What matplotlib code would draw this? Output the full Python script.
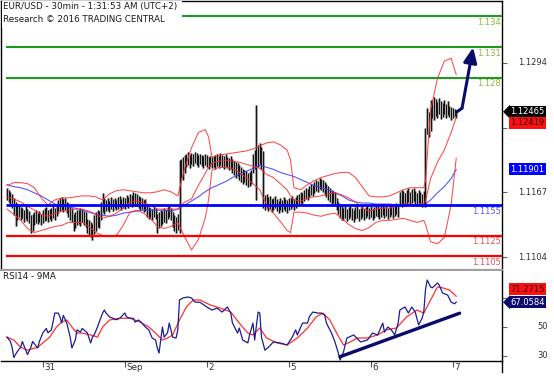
import matplotlib
matplotlib.use("Agg")
import matplotlib.pyplot as plt
import matplotlib.transforms as mtransforms
from matplotlib.patches import Rectangle
from matplotlib.lines import Line2D
import numpy as np

# 30 min bars (high / low in pips above 1.1000), first bar = Aug 30 ~14:00
bar_high = [
    172, 170, 168, 166, 162, 158, 156, 155, 153, 152, 150, 154, 151, 149, 145, 146,
    148, 150, 147, 149, 146, 150, 152, 153, 150, 151, 152, 154, 152,
    156, 160, 162, 163, 161, 162, 158, 157, 154, 152, 146, 148, 150,
    150, 152, 151, 149, 148, 141, 140, 138, 136, 145, 148, 150, 149, 158, 167, 162,
    160, 162, 159, 163, 161, 162, 160, 163, 164, 161, 163, 162, 165, 163, 166, 165,
    168, 167, 166, 164, 163, 162, 160, 161, 155, 153, 152, 151, 154, 152, 146, 148,
    150, 149, 152, 150, 153, 155, 152, 148, 145, 143, 146, 199, 200, 202, 204,
    205, 207, 204, 206, 205, 207, 206, 204, 205, 204, 203, 205, 204, 202, 203, 202,
    203, 204, 205, 203, 206, 204, 203, 205, 202, 201, 203,
    200, 198, 197, 196, 194, 192, 190, 189, 188, 186, 187, 189, 205, 209, 253, 214, 216, 212, 208,
    165, 166, 163, 164, 161, 162, 164, 161, 159, 162, 160, 163, 161, 160, 162,
    162, 164, 161, 163, 165,
    166, 168, 167, 170, 172, 171, 174, 176, 175, 178, 180, 179, 182, 181,
    180, 178, 176, 174, 172, 170, 169, 168, 162, 158, 156, 154,
    152, 154, 151, 153, 155, 152, 150, 153, 154, 151, 152, 154, 151, 153, 155, 152, 154,
    151, 153, 155, 154, 152, 155, 156, 153, 155, 152, 154, 156, 153, 155, 157, 154,
    168, 170, 169, 167, 170, 172, 168, 171, 172, 169, 167, 170, 168, 166, 169,
    231, 250, 246, 258, 258, 261, 259, 256, 260, 257, 255, 258, 254, 257, 252, 251, 250, 249, 248]
bar_low = [
    160, 158, 155, 152, 145, 134, 140, 143, 140, 142, 138, 141, 139, 137, 128, 130,
    135, 137, 136, 138, 135, 137, 139, 140, 138, 141, 139, 142, 140,
    144, 147, 149, 150, 148, 150, 147, 143, 140, 138, 130, 132, 135,
    136, 134, 138, 135, 133, 128, 126, 124, 121, 127, 130, 133, 132, 140, 148, 146,
    149, 150, 148, 151, 149, 152, 150, 151, 153, 150, 152, 151, 154, 152, 155, 153,
    156, 154, 155, 152, 150, 151, 148, 149, 143, 141, 142, 140, 143, 141, 128, 132,
    134, 136, 138, 137, 141, 143, 140, 133, 130, 128, 131, 128, 182, 180, 186,
    192, 194, 191, 195, 193, 196, 194, 192, 195, 193, 191, 194, 192, 190, 193, 191,
    192, 190, 193, 191, 194, 192, 190, 193, 191, 189, 190,
    186, 184, 182, 183, 180, 178, 176, 178, 175, 173, 174, 176, 186, 190, 160, 192, 195, 190, 152,
    150, 152, 149, 151, 148, 150, 152, 149, 147, 150, 148, 151, 149, 147, 150,
    151, 153, 150, 152, 154,
    155, 157, 156, 159, 161, 160, 163, 165, 164, 167, 169, 168, 171, 170,
    168, 165, 163, 160, 158, 156, 157, 155, 150, 146, 142, 140,
    140, 142, 139, 141, 143, 140, 138, 141, 142, 139, 141, 143, 140, 142, 144, 141, 143,
    140, 142, 144, 143, 141, 143, 145, 142, 144, 141, 143, 145, 142, 144, 146, 143,
    155, 153, 156, 154, 156, 158, 155, 157, 159, 156, 154, 157, 155, 153, 156,
    153, 225, 222, 228, 240, 238, 242, 240, 244, 239, 241, 244, 240, 243, 241, 238, 240, 242, 240]

# bollinger bands + moving average, read every few bars (pips above 1.1000)
band_idx = [0, 4, 8, 12, 16, 20, 24, 28, 32, 36,
            40, 44, 48, 52, 56, 60, 64, 68, 72, 76,
            80, 84, 88, 92, 96, 100, 104, 108, 112, 116,
            118, 120, 124, 128, 132, 136, 140, 144, 148, 152,
            156, 160, 164, 166, 168, 172, 176, 180, 184, 188,
            192, 196, 200, 204, 208, 212, 216, 220, 224, 228,
            232, 236, 240, 244, 245, 248, 252, 256, 260, 263]
bb_upper = [174, 177, 177, 176, 172, 162, 155, 160, 162, 162,
            163, 164, 164, 163, 160, 166, 169, 170, 169, 168,
            167, 167, 168, 170, 168, 164, 191, 211, 226, 229,
            222, 202, 204, 205, 206, 207, 208, 210, 213, 216,
            217, 214, 209, 199, 172, 170, 175, 179, 182, 184,
            186, 187, 187, 182, 173, 164, 163, 163, 164, 167,
            170, 172, 172, 172, 179, 248, 279, 296, 299, 283]
bb_middle = [163, 161, 158, 154, 150, 146, 144, 147, 149, 150,
             151, 151, 149, 146, 142, 144, 147, 152, 158, 159,
             157, 155, 151, 151, 151, 151, 158, 161, 174, 186,
             192, 196, 198, 199, 198, 197, 195, 193, 191, 185,
             182, 176, 170, 164, 160, 159, 162, 163, 164, 166,
             167, 165, 162, 158, 152, 149, 151, 152, 152, 154,
             156, 156, 155, 157, 159, 181, 197, 209, 226, 241]
bb_lower = [151, 146, 140, 132, 128, 130, 132, 134, 135, 138,
            138, 138, 134, 128, 125, 124, 125, 135, 148, 150,
            147, 142, 134, 132, 134, 138, 124, 111, 121, 142,
            160, 189, 192, 192, 191, 187, 182, 176, 170, 155,
            147, 139, 130, 128, 148, 148, 147, 145, 144, 146,
            147, 142, 136, 132, 130, 133, 138, 140, 140, 141,
            142, 140, 138, 140, 136, 119, 117, 123, 155, 201]
ma_blue = [175, 173, 172, 170, 167, 164, 160, 156, 154, 153,
           152, 150, 148, 146, 145, 144, 145, 147, 148, 149,
           150, 150, 150, 150, 149, 151, 155, 159, 163, 168,
           170, 172, 175, 178, 182, 185, 188, 191, 194, 192,
           190, 187, 185, 184, 183, 180, 177, 174, 172, 170,
           167, 164, 160, 158, 157, 157, 156, 156, 156, 155,
           155, 155, 155, 155, 156, 160, 167, 173, 181, 190]

# RSI14 and its 9MA
rsi_idx = [0, 2, 3, 4, 6, 8, 9, 11, 12, 14,
           15, 18, 19, 21, 23, 24, 26, 28, 30, 31,
           32, 33, 35, 37, 38, 40, 41, 43, 44, 47,
           49, 50, 51, 53, 54, 56, 57, 58, 60, 62,
           64, 66, 69, 70, 72, 74, 75, 77, 79, 81,
           83, 85, 87, 88, 89, 90, 91, 92, 94, 95,
           97, 99, 100, 101, 103, 106, 108, 110, 113, 117,
           120, 123, 126, 129, 131, 132, 135, 136, 138, 141,
           142, 144, 145, 147, 148, 149, 151, 153, 156, 160,
           164, 167, 169, 170, 173, 176, 177, 179, 182, 184,
           186, 187, 190, 192, 194, 195, 197, 199, 203, 207,
           211, 214, 217, 220, 221, 223, 225, 227, 229, 230,
           233, 235, 237, 239, 241, 243, 244, 245, 246, 248,
           249, 252, 253, 255, 258, 260, 262, 263]
rsi_val = [43, 40, 36, 29, 33, 36, 40, 34, 31, 36,
           40, 35.5, 40, 46, 49, 46, 48, 59.6, 59.6, 57,
           52.7, 58, 52.7, 43, 35.5, 41, 48, 46.5, 49, 46,
           39, 43, 44.5, 50, 53.4, 59.6, 61.7, 59.6, 57, 56,
           55, 56, 59.6, 57, 56, 56, 53.4, 54.8, 52.7, 50,
           48, 42.4, 41, 35.5, 32, 41, 50, 43, 46, 52.7,
           43, 42.4, 48, 68.6, 70, 70.7, 70, 67.2, 67, 63.8,
           61.7, 63, 60.3, 63.8, 59.6, 52.7, 45.8, 49.3, 41, 39,
           44.5, 52.7, 41, 60.3, 59.6, 43, 34, 36, 39.7, 39,
           37.6, 43, 48, 44.5, 52.7, 52.7, 57, 60.3, 59.6, 59.6,
           58.2, 52.7, 45.8, 39.7, 32, 27.2, 32.8, 42.4, 44.5, 39.7,
           41, 45.8, 44.5, 52.7, 46.5, 50, 48, 44.5, 52.7, 61.7,
           63.8, 59.6, 63.8, 60.3, 51.4, 56, 60.3, 75.5, 82.4, 77.6,
           77, 80.3, 79, 73.4, 72, 67.2, 66, 67.1]
rsi_ma_idx = [0, 4, 8, 12, 18, 21, 25, 29, 32, 35,
              38, 41, 44, 49, 53, 56, 60, 66, 72, 78,
              83, 87, 91, 94, 97, 101, 105, 109, 113, 119,
              125, 131, 136, 141, 144, 148, 152, 158, 164, 170,
              176, 181, 185, 189, 193, 197, 201, 205, 211, 217,
              222, 228, 234, 240, 244, 248, 252, 255, 259, 263]
rsi_ma_val = [43, 41, 36, 34, 36, 39, 43, 50, 53.4, 54.8,
              50, 45.8, 45.8, 44.5, 43, 50, 54.8, 56, 56, 53.4,
              50, 45.8, 41, 42.4, 44.5, 54.8, 63.8, 68.6, 68.6, 65.2,
              63, 60.3, 52.7, 45.8, 44.5, 49.3, 42.4, 39, 37.6, 42.4,
              49.3, 57, 59.6, 54.8, 45.8, 37.6, 39.7, 42.4, 42.4, 44.5,
              48, 49.3, 57, 61.7, 59.6, 68.6, 77.6, 77, 75.5, 71.3]
trend_idx = [195, 265]
trend_val = [29.5, 59.5]

# projection arrow (bar index, price)
proj_idx = [263.5, 266.4, 272.9]
proj_price = [1.12465, 1.12500, 1.13096]

green_levels = [1.134, 1.131, 1.128]
blue_levels = [1.1155]
red_levels = [1.1125, 1.1105]

day_idx = [21, 69, 117, 165, 213, 261]
day_labels = ["31", "Sep", "2", "5", "6", "7"]
price_ticks = [1.1104, 1.11675, 1.1231, 1.12945]
price_tick_labels = ["1.1104", "1.1167", "", "1.1294"]

last_close = 1.12465
bb_last = 1.12419
ma_last = 1.11901
rsi_last = 67.0584
rsi_ma_last = 71.2715


def px(p):
    return 1.1 + np.asarray(p, dtype=float) / 10000.0


W, H = 554, 376
fig = plt.figure(figsize=(W / 100, H / 100), dpi=100)
fig.patch.set_facecolor("white")


def box(x0, y0, x1, y1):
    return [x0 / W, 1 - y1 / H, (x1 - x0) / W, (y1 - y0) / H]


ax = fig.add_axes(box(1, 0.5, 502, 270))
ar = fig.add_axes(box(1, 271, 502, 361))

xmin, xmax = -3.5, 289.8
for a in (ax, ar):
    a.set_xlim(xmin, xmax)
    a.set_facecolor("white")
ax.set_ylim(1.10913, 1.13556)
ar.set_ylim(26.55, 88.6)

bars = np.arange(len(bar_high))
navy = "#0b0b6e"

# price bars: grey halo + thin black stroke
ax.vlines(bars, px(bar_low), px(bar_high), colors="#a8a8a8", lw=2.2, zorder=2)
ax.vlines(bars, px(bar_low), px(bar_high), colors="#111111", lw=0.7, zorder=3)

# indicators
ax.plot(band_idx, px(ma_blue), color="#3a3aff", lw=0.8, alpha=0.85, zorder=4)
for band in (bb_upper, bb_middle, bb_lower):
    ax.plot(band_idx, px(band), color="#ff2a2a", lw=0.75, alpha=0.85, zorder=4)

# support / resistance
lab = mtransforms.blended_transform_factory(ax.transAxes, ax.transData)
for lvls, lc, tc, lw in ((green_levels, "#1f9a1f", "#93b53c", 1.5),
                         (blue_levels, "#0000ff", "#5858ff", 2.0),
                         (red_levels, "#ff0000", "#e85050", 1.6)):
    for v in lvls:
        ax.hlines(v, -0.3, xmax, colors=lc, lw=lw, zorder=5)
        txt = ("%.4f" % v).rstrip("0")
        ax.annotate(txt, xy=(0.998, v), xycoords=lab, xytext=(0, -1.2),
                    textcoords="offset points", ha="right", va="top",
                    fontsize=6, color=tc, zorder=6)

# projection arrow
ax.plot(proj_idx[:2], proj_price[:2], color=navy, lw=2.2, solid_capstyle="round", zorder=7)
ax.annotate("", xy=(proj_idx[2], proj_price[2]), xytext=(proj_idx[1], proj_price[1]),
            arrowprops=dict(arrowstyle="-|>,head_length=0.9,head_width=0.4",
                            lw=2.2, color=navy, shrinkA=0, shrinkB=0), zorder=7)

# RSI panel
ar.plot(rsi_ma_idx, rsi_ma_val, color="#ff3030", lw=0.9, zorder=3)
ar.plot(rsi_idx, rsi_val, color="#1c1c96", lw=0.9, zorder=4)
ar.plot(trend_idx, trend_val, color=navy, lw=2.4, solid_capstyle="round", zorder=5)

# axes styling
for a in (ax, ar):
    a.yaxis.tick_right()
    a.tick_params(axis="y", length=3.5, width=0.8, color="#666666", labelright=False)
    for s in a.spines.values():
        s.set_color("black")
        s.set_linewidth(1.0)
ax.set_xticks([])
ax.set_yticks(price_ticks)
ax.spines["bottom"].set_color("#a0a0a0")
ax.spines["bottom"].set_linewidth(1.6)
ar.spines["top"].set_visible(False)
ar.spines["left"].set_visible(False)
ar.set_yticks([30, 50, 70])
ar.set_xticks(day_idx)
ar.set_xticklabels([])
ar.tick_params(axis="x", length=4, width=0.8, color="#555555")

for v, s in zip(price_ticks, price_tick_labels):
    ax.text(1.0907, v, s, transform=lab, ha="right", va="center", fontsize=6, color="#333333")
rlab = mtransforms.blended_transform_factory(ar.transAxes, ar.transData)
for v in (50, 30):
    ar.text(1.0907, v, str(v), transform=rlab, ha="right", va="center", fontsize=6, color="#333333")

dlab = mtransforms.blended_transform_factory(ar.transData, ar.transAxes)
for i, s in zip(day_idx, day_labels):
    ar.text(i + 1.0, -0.02, s, transform=dlab, ha="left", va="top", fontsize=6.3, color="#333333")


def tag(a, tr, value, text, face, fg, dy=0.0, arrow=False):
    a.annotate(text, xy=(1.016, value), xycoords=tr, xytext=(0, dy), textcoords="offset points",
               ha="left", va="center", fontsize=6, color=fg, annotation_clip=False,
               bbox=dict(boxstyle="square,pad=0.18", fc=face, ec="none"), zorder=10)
    if arrow:
        a.annotate("", xy=(1.002, value), xycoords=tr, xytext=(1.016, value),
                   arrowprops=dict(arrowstyle="-|>,head_length=0.5,head_width=0.5",
                                   color=face, lw=0.1, shrinkA=0, shrinkB=0),
                   annotation_clip=False)


tag(ax, lab, last_close, "%.5f" % last_close, "black", "white", arrow=True)
tag(ax, lab, bb_last, "%.5f" % bb_last, "#ff1010", "#2a0000", dy=-4.5)
tag(ax, lab, ma_last, "%.5f" % ma_last, "#0000ff", "white")
tag(ar, rlab, rsi_ma_last, "%.4f" % rsi_ma_last, "#ff1010", "#2a0000", dy=5.0)
tag(ar, rlab, rsi_last, "%.4f" % rsi_last, navy, "white", arrow=True)

# right border carried below the RSI axis
fig.add_artist(Line2D([502 / W, 502 / W], [1 - 361 / H, 1 - 372 / H], color="black", lw=1.0))

# title block with white background
fig.add_artist(Rectangle((1.5 / W, 1 - 28 / H), 180 / W, 27 / H, transform=fig.transFigure,
                         fc="white", ec="none", zorder=8))
fig.text(3 / W, 1 - 2.5 / H, "EUR/USD - 30min - 1:31:53 AM (UTC+2)", ha="left", va="top",
         fontsize=6.3, color="#1a1a1a", zorder=9)
fig.text(3 / W, 1 - 14.5 / H, "Research \u00a9 2016 TRADING CENTRAL", ha="left", va="top",
         fontsize=6.3, color="#1a1a1a", zorder=9)
fig.text(3 / W, 1 - 272 / H, "RSI14 - 9MA", ha="left", va="top", fontsize=6.3,
         color="#1a1a1a", zorder=9)

fig.savefig("out.png", dpi=100, facecolor="white")
